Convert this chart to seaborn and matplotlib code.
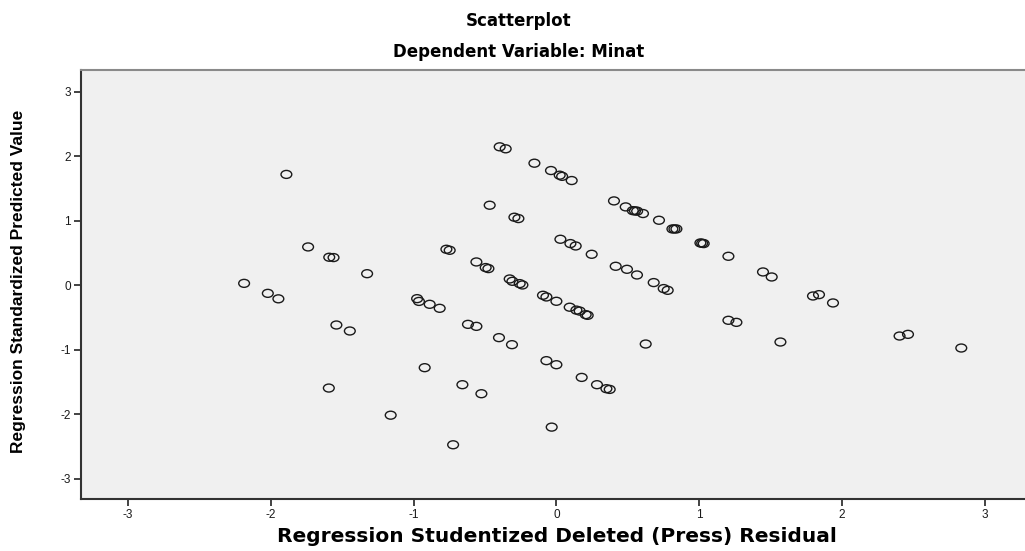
import numpy as np
import pandas as pd
import matplotlib
matplotlib.use("Agg")
import matplotlib.pyplot as plt
from matplotlib.path import Path
from matplotlib.transforms import Affine2D
import seaborn as sns

# Studentized deleted (press) residuals vs. standardized predicted values
resid = [
    -1.89, -1.738, -1.59, -1.56, -1.325, -2.186, -2.02, -1.946, -1.54, -1.446,
    -1.593, -1.16,
    -0.397, -0.355, -0.154, -0.038, 0.023, 0.04, 0.107,
    -0.467, -0.294, -0.266,
    0.403, 0.485, 0.535, 0.55, 0.565, 0.606, 0.718, 0.812, 0.826, 0.84,
    1.008, 1.02, 1.031, 1.204, 1.446, 1.507, 1.796, 1.838, 1.936,
    -0.77, -0.747,
    0.028, 0.098, 0.135, 0.247,
    0.415, 0.494, 0.564, 0.681, 0.751, 0.779,
    -0.56, -0.495, -0.476,
    -0.327, -0.308, -0.257, -0.238,
    -0.094, -0.07, 0.0, 0.093, 0.14, 0.163, 0.205, 0.219,
    -0.975, -0.962, -0.887, -0.817,
    -0.619, -0.56, -0.402, -0.311, 0.625,
    -0.922, -0.658, -0.525,
    -0.07, 0.0, 0.177, 0.284, 0.35, 0.373,
    -0.033, -0.723,
    1.204, 1.26, 1.568, 2.402, 2.461, 2.834,
]
pred = [
    1.72, 0.595, 0.435, 0.43, 0.18, 0.03, -0.125, -0.21, -0.616, -0.709,
    -1.594, -2.015,
    2.148, 2.117, 1.894, 1.78, 1.708, 1.69, 1.625,
    1.242, 1.056, 1.035,
    1.309, 1.216, 1.158, 1.154, 1.15, 1.113, 1.009, 0.874, 0.874, 0.874,
    0.657, 0.652, 0.647, 0.45, 0.207, 0.129, -0.166, -0.145, -0.274,
    0.559, 0.543,
    0.714, 0.647, 0.61, 0.481,
    0.295, 0.248, 0.16, 0.042, -0.051, -0.078,
    0.362, 0.275, 0.259,
    0.098, 0.062, 0.026, 0.005,
    -0.155, -0.181, -0.248, -0.34, -0.385, -0.40, -0.455, -0.466,
    -0.207, -0.25, -0.295, -0.357,
    -0.606, -0.637, -0.812, -0.921, -0.911,
    -1.278, -1.542, -1.682,
    -1.169, -1.232, -1.429, -1.542, -1.604, -1.615,
    -2.2, -2.474,
    -0.543, -0.575, -0.88, -0.787, -0.761, -0.973,
]
ticks = [-3, -2, -1, 0, 1, 2, 3]

df = pd.DataFrame({"resid": resid, "pred": pred})

sns.set_theme(style="ticks")
plt.rcParams["font.family"] = ["Liberation Sans", "DejaVu Sans"]

# slightly wide open ring used as the point marker
ring = Path.unit_circle().transformed(Affine2D().scale(1.35, 1.0))

fig = plt.figure(figsize=(10.25, 5.51), dpi=100)
ax = fig.add_axes([0.0787, 0.0938, 0.9213, 0.7792])
ax.set_facecolor("#f0f0f0")

sns.scatterplot(data=df, x="resid", y="pred", ax=ax, marker=ring, s=60,
                facecolor="none", edgecolor="#1a1a1a", linewidth=1.0)

ax.set_xlim(-3.33, 3.28)
ax.set_ylim(-3.32, 3.34)
ax.set_xticks(ticks)
ax.set_yticks(ticks)
ax.set_xticklabels([str(t) for t in ticks], fontsize=8.5, color="#1a1a1a")
ax.set_yticklabels([str(t) for t in ticks], fontsize=8.5, color="#1a1a1a")
ax.tick_params(axis="both", length=5, width=1.2, color="#222222", pad=2)

for side in ("left", "bottom"):
    ax.spines[side].set_color("#333333")
    ax.spines[side].set_linewidth(1.5)
ax.spines["top"].set_color("#8a8a8a")
ax.spines["top"].set_linewidth(1.5)
ax.spines["right"].set_visible(False)

ax.set_xlabel("")
ax.set_ylabel("")

fig.text(0.506, 0.962, "Scatterplot", ha="center", va="center", color="black",
         fontsize=12, fontweight="bold", family=["DejaVu Sans"])
fig.text(0.506, 0.905, "Dependent Variable: Minat", ha="center", va="center",
         color="black", fontsize=12, fontweight="bold", family=["DejaVu Sans"])
fig.text(0.5433, 0.027, "Regression Studentized Deleted (Press) Residual",
         ha="center", va="center", fontsize=14.5, fontweight="bold",
         color="black", family=["DejaVu Sans"])
fig.text(0.018, 0.49, "Regression Standardized Predicted Value", ha="center",
         va="center", rotation=90, fontsize=12.5, fontweight="bold",
         color="black",
         family=["Liberation Sans Narrow", "Liberation Sans", "DejaVu Sans"])

fig.savefig("out.png", dpi=100)
